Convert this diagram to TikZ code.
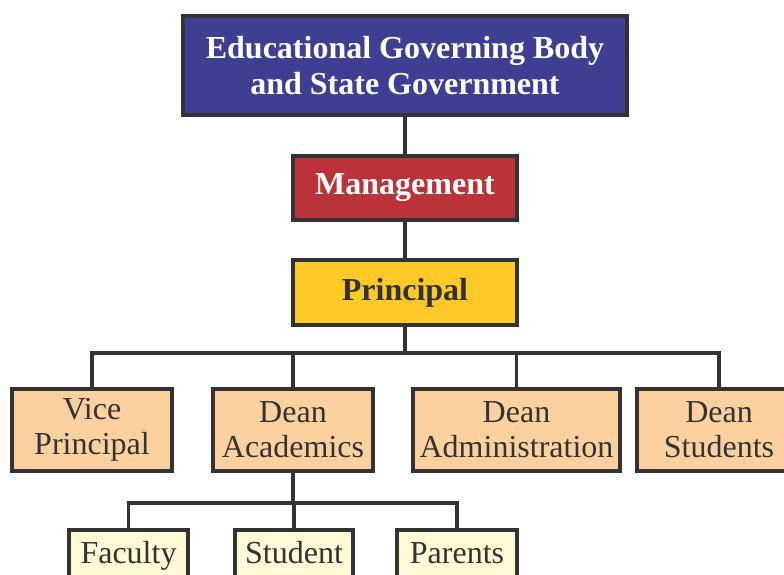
\documentclass[tikz,border=0pt]{standalone}
\usepackage{fontspec}
\setmainfont{Liberation Serif}
\definecolor{boxblue}{HTML}{3E3E92}
\definecolor{boxred}{HTML}{BA3339}
\definecolor{boxyellow}{HTML}{FFCA28}
\definecolor{boxpeach}{HTML}{FDD09F}
\definecolor{boxcream}{HTML}{FFF9D6}
\definecolor{ink}{HTML}{333333}
\tikzset{
  orgbox/.style={draw=ink, line width=3.2pt, rectangle, inner sep=0pt, align=center,
    font=\fontsize{32}{35}\selectfont, text=ink},
  boldbox/.style={orgbox, font=\fontsize{32}{36}\selectfont\bfseries},
  leafbox/.style={orgbox, fill=boxcream, text height=21pt, text depth=7pt, minimum height=52pt},
  link/.style={draw=ink, line width=3.2pt}
}
\begin{document}
\begin{tikzpicture}[x=1pt,y=-1pt]
\useasboundingbox (0,0) rectangle (784,574);
\clip (0,0) rectangle (784,574);
\coordinate (bus) at (0,353);
\coordinate (bus2) at (0,503);
% nodes
\node[boldbox, fill=boxblue, text=white, minimum width=444pt, minimum height=99pt] (gov) at (405,65.5)
  {Educational Governing Body\\and State Government};
\node[boldbox, fill=boxred, text=white, minimum width=224pt, minimum height=64pt] (mgmt) at (405,188) {Management};
\node[boldbox, fill=boxyellow, minimum width=224pt, minimum height=65pt] (princ) at (405,292.5) {Principal};
\node[orgbox, fill=boxpeach, minimum width=160pt, minimum height=82pt] (vp) at (92,430) {Vice\\Principal};
\node[orgbox, fill=boxpeach, minimum width=160pt, minimum height=82pt] (da) at (293,430) {Dean\\Academics};
\node[orgbox, fill=boxpeach, minimum width=207pt, minimum height=82pt] (dadm) at (516.5,430) {Dean\\Administration};
\node[orgbox, fill=boxpeach, minimum width=164pt, minimum height=82pt] (ds) at (719,430) {Dean\\Students};
\node[leafbox, minimum width=119pt] (fac) at (128.5,556) {Faculty};
\node[leafbox, minimum width=118pt] (stu) at (294,556) {Student};
\node[leafbox, minimum width=120pt] (par) at (457,556) {Parents};
% connectors
\draw[link] (gov.south) -- (mgmt.north);
\draw[link] (mgmt.south) -- (princ.north);
\draw[link] (princ.south) -- (princ.south |- bus);
\draw[link] (vp.north) -- (vp.north |- bus) -- (ds.north |- bus) -- (ds.north);
\draw[link] (da.north) -- (da.north |- bus);
\draw[link] (dadm.north) -- (dadm.north |- bus);
\draw[link] (da.south) -- (da.south |- bus2);
\draw[link] (fac.north) -- (fac.north |- bus2) -- (par.north |- bus2) -- (par.north);
\draw[link] (stu.north) -- (stu.north |- bus2);
\end{tikzpicture}
\end{document}
